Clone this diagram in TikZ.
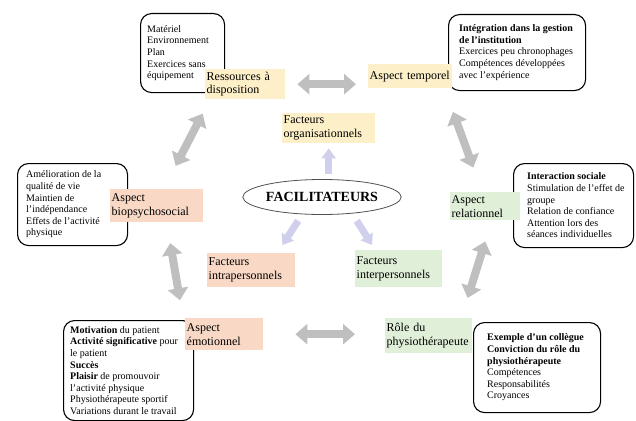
\documentclass[tikz,border=0pt]{standalone}
\usepackage{fontspec}
\setmainfont{Liberation Serif}
\usetikzlibrary{arrows.meta,shapes.geometric,calc}

\definecolor{labY}{HTML}{FDF0C8}
\definecolor{labP}{HTML}{F9D9C6}
\definecolor{labG}{HTML}{E0EFD8}
\definecolor{arrowgray}{HTML}{BFBFBF}
\definecolor{lav}{HTML}{D0D0EC}
\definecolor{ellgray}{HTML}{505050}

\begin{document}
\hyphenpenalty=10000 \exhyphenpenalty=10000
\begin{tikzpicture}[x=1pt,y=-1pt,
  box/.style={draw=black, line width=1.1pt, rounded corners=11pt, anchor=north west, inner sep=0pt},
  boxtext/.style={anchor=west, align=left, inner sep=0pt, font=\fontsize{10}{11.6}\selectfont},
  lab/.style={anchor=north west, inner xsep=1.5pt, inner ysep=0pt, align=left, font=\fontsize{12}{13.8}\selectfont},
  ylab/.style={lab, fill=labY},
  plab/.style={lab, fill=labP},
  glab/.style={lab, fill=labG},
  garrow/.style={draw=arrowgray, line width=8pt, {Triangle[width=20pt,length=12pt]}-{Triangle[width=20pt,length=12pt]}},
  parrow/.style={draw=lav, line width=7pt, -{Triangle[width=14pt,length=10pt]}}
]
\useasboundingbox (0,0) rectangle (636,420);

% rounded boxes holding the details
\node[box, minimum width=84pt, minimum height=79pt] (b1) at (140,13) {};
\node[boxtext] (t1) at ([xshift=7pt]b1.west) {Matériel\\Environnement\\Plan\\Exercices sans\\équipement};

\node[box, minimum width=137pt, minimum height=76pt] (b2) at (448,14) {};
\node[boxtext] (t2) at ([xshift=11pt]b2.west) {\textbf{Intégration dans la gestion}\\\textbf{de l’institution}\\Exercices peu chronophages\\Compétences développées\\avec l’expérience};

\node[box, minimum width=110pt, minimum height=82pt] (b3) at (17,163) {};
\node[boxtext] (t3) at ([xshift=9pt]b3.west) {Amélioration de la\\qualité de vie\\Maintien de\\l’indépendance\\Effets de l’activité\\physique};

\node[box, minimum width=120pt, minimum height=84pt] (b4) at (513,163) {};
\node[boxtext] (t4) at ([xshift=14pt]b4.west) {\textbf{Interaction sociale}\\Stimulation de l’effet de\\groupe\\Relation de confiance\\Attention lors des\\séances individuelles};

\node[box, minimum width=130pt, minimum height=100pt] (b5) at (63,320) {};
\node[boxtext] (t5) at ([xshift=7pt]b5.west) {\textbf{Motivation} du patient\\\textbf{Activité significative} pour\\le patient\\\textbf{Succès}\\\textbf{Plaisir} de promouvoir\\l’activité physique\\Physiothérapeute sportif\\Variations durant le travail};

\node[box, minimum width=127pt, minimum height=90pt] (b6) at (473,322) {};
\node[boxtext] (t6) at ([xshift=14pt]b6.west) {\textbf{Exemple d’un collègue}\\\textbf{Conviction du rôle du}\\\textbf{physiothérapeute}\\Compétences\\Responsabilités\\Croyances};

% coloured labels
\node[ylab, minimum width=80pt, minimum height=30pt, text width=77pt] (res) at (205,69) {Ressources à\\disposition};
\node[ylab, minimum width=84pt, minimum height=24pt, text width=81pt] (tem) at (368,64) {Aspect temporel};
\node[ylab, minimum width=93pt, minimum height=30pt, text width=90pt] (org) at (282,113) {Facteurs\\organisationnels};
\node[plab, minimum width=93pt, minimum height=33pt, text width=90pt] (bio) at (110,189) {Aspect\\biopsychosocial};
\node[glab, minimum width=70pt, minimum height=28pt, text width=67pt] (rel) at (450,192) {Aspect\\relationnel};
\node[plab, minimum width=88pt, minimum height=34pt, text width=85pt] (intra) at (207,253) {Facteurs\\intrapersonnels};
\node[glab, minimum width=87pt, minimum height=37pt, text width=84pt] (inter) at (355,250) {Facteurs\\interpersonnels};
\node[plab, minimum width=78pt, minimum height=32pt, text width=75pt] (emo) at (185,318) {Aspect\\émotionnel};
\node[glab, minimum width=87pt, minimum height=35pt, text width=84pt] (role) at (385,318) {Rôle du\\physiothérapeute};

% centre
\node[draw=ellgray, line width=0.8pt, ellipse, minimum width=140pt, minimum height=35pt, inner sep=0pt,
      font=\fontsize{14}{16}\selectfont\bfseries] (fac) at (322,197) {FACILITATEURS};

% arrows from the centre
\draw[parrow, shorten <=5pt, shorten >=5pt] (org.south |- fac.north) -- (org.south);
\draw[parrow, shorten <=7pt, shorten >=9.5pt] ([xshift=-20pt]fac.south) -- ([xshift=26pt]intra.north);
\draw[parrow, shorten <=7pt, shorten >=6pt] ([xshift=31pt]fac.south) -- ([xshift=-23.5pt]inter.north);

% double arrows around the ring
\draw[garrow, shorten <=12pt, shorten >=12pt] (res.east) -- (res.east -| tem.west);
\draw[garrow, shorten <=16pt, shorten >=26pt] ([xshift=5pt]res.south west) -- ([xshift=7pt]bio.north);
\draw[garrow, shorten <=25pt, shorten >=26pt] ([xshift=-8pt]tem.south east) -- ([xshift=-3pt]rel.north);
\draw[garrow, shorten <=21pt, shorten >=18pt] ([xshift=10pt]bio.south) -- ([xshift=-2pt]emo.north west);
\draw[garrow, shorten <=22pt, shorten >=21pt] ([xshift=6.6pt]rel.south) -- ([xshift=-11pt]role.north east);
\draw[garrow, shorten <=32pt, shorten >=30pt] (emo.east) -- (emo.east -| role.west);
\end{tikzpicture}
\end{document}
